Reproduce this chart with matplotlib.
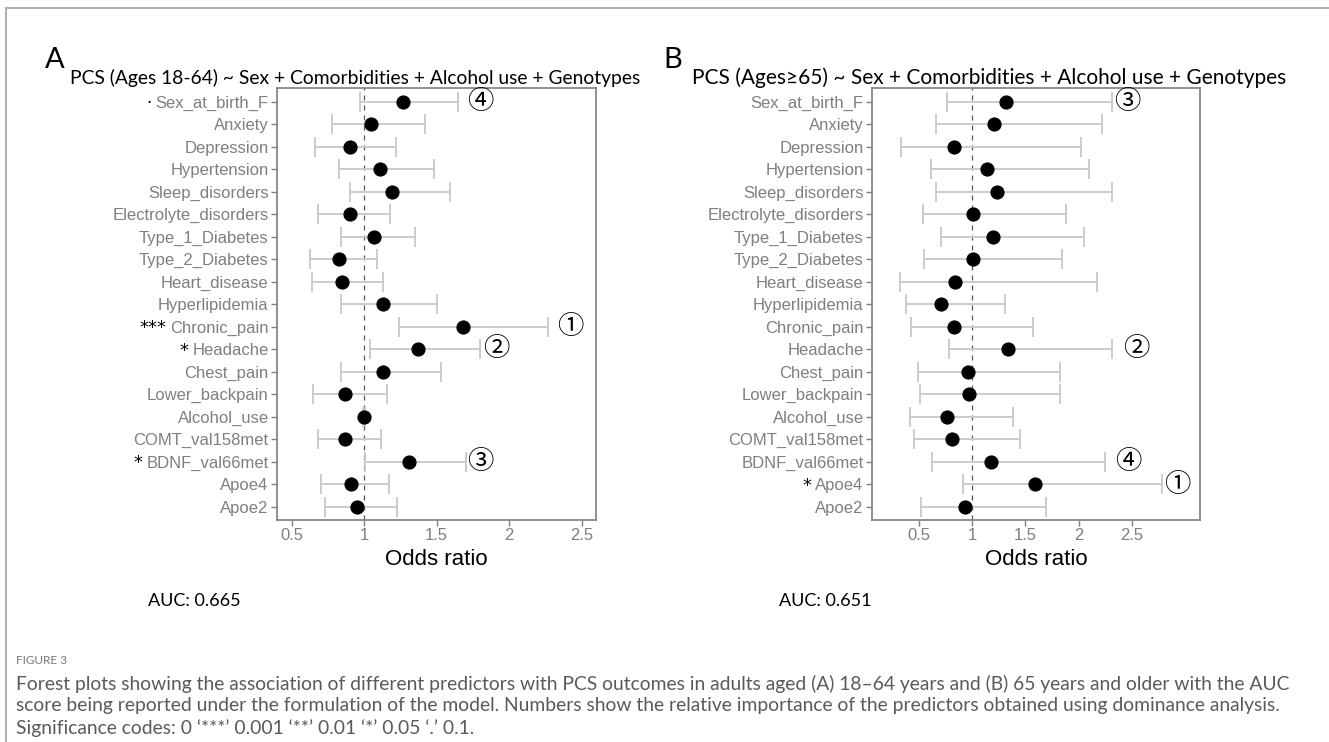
import matplotlib.pyplot as plt
import numpy as np

predictors = ['Sex_at_birth_F', 'Anxiety', 'Depression', 'Hypertension', 'Sleep_disorders',
              'Electrolyte_disorders', 'Type_1_Diabetes', 'Type_2_Diabetes', 'Heart_disease',
              'Hyperlipidemia', 'Chronic_pain', 'Headache', 'Chest_pain', 'Lower_backpain',
              'Alcohol_use', 'COMT_val158met', 'BDNF_val66met', 'Apoe4', 'Apoe2']

# panel A: ages 18-64
or_a = [1.27, 1.05, 0.90, 1.11, 1.19, 0.90, 1.07, 0.83, 0.85, 1.13, 1.68, 1.37, 1.13, 0.87, 1.00, 0.87, 1.31, 0.91, 0.95]
lo_a = [0.97, 0.78, 0.66, 0.83, 0.90, 0.68, 0.84, 0.63, 0.64, 0.84, 1.24, 1.04, 0.84, 0.65, 0.99, 0.68, 1.01, 0.70, 0.73]
hi_a = [1.65, 1.42, 1.22, 1.48, 1.59, 1.18, 1.35, 1.09, 1.13, 1.50, 2.27, 1.80, 1.53, 1.16, 1.01, 1.12, 1.70, 1.17, 1.23]
sig_a = ['·', '', '', '', '', '', '', '', '', '', '***', '*', '', '', '', '', '*', '', '']
rank_rows_a = [0, 10, 11, 16]
rank_x_a = [1.80, 2.42, 1.91, 1.80]
rank_txt_a = ['④', '①', '②', '③']
auc_a = 'AUC: 0.665'
title_a = 'PCS (Ages 18-64) ~ Sex + Comorbidities + Alcohol use + Genotypes'

# panel B: ages 65+
or_b = [1.32, 1.21, 0.83, 1.14, 1.23, 1.01, 1.20, 1.01, 0.84, 0.71, 0.83, 1.34, 0.96, 0.97, 0.76, 0.81, 1.18, 1.59, 0.93]
lo_b = [0.76, 0.66, 0.33, 0.61, 0.66, 0.54, 0.71, 0.55, 0.32, 0.38, 0.43, 0.78, 0.49, 0.51, 0.42, 0.45, 0.62, 0.91, 0.52]
hi_b = [2.31, 2.22, 2.02, 2.10, 2.31, 1.88, 2.05, 1.84, 2.17, 1.31, 1.57, 2.31, 1.83, 1.83, 1.38, 1.45, 2.25, 2.78, 1.69]
sig_b = ['', '', '', '', '', '', '', '', '', '', '', '', '', '', '', '', '', '*', '']
rank_rows_b = [0, 11, 16, 17]
rank_x_b = [2.46, 2.54, 2.465, 2.93]
rank_txt_b = ['③', '②', '④', '①']
auc_b = 'AUC: 0.651'
title_b = 'PCS (Ages\u226565) ~ Sex + Comorbidities + Alcohol use + Genotypes'

ticks = [0.5, 1, 1.5, 2, 2.5]
tick_labels = ['0.5', '1', '1.5', '2', '2.5']

W, H = 1329, 742
fig = plt.figure(figsize=(W / 100, H / 100), dpi=100)

label_font = 'Liberation Sans'
title_font = 'Lato'


def px_box(left, right, top, bottom):
    return [left / W, 1 - bottom / H, (right - left) / W, (bottom - top) / H]


def draw_panel(ax, odds, lo, hi, xlim, rank_rows, rank_x, rank_txt):
    y = np.arange(len(predictors))[::-1] + 1
    odds = np.array(odds)
    err = [odds - np.array(lo), np.array(hi) - odds]
    ax.errorbar(odds, y, xerr=err, fmt='none', ecolor='#c8c8c8', elinewidth=1.3,
                capsize=7, capthick=1.3, zorder=2)
    ax.axvline(1, color='#555555', lw=0.9, ls=(0, (4, 4)), zorder=1)
    ax.scatter(odds, y, s=85, color='black', zorder=3)
    for r, xv, t in zip(rank_rows, rank_x, rank_txt):
        ax.text(xv, y[r], t, fontsize=19, ha='center', va='center',
                family=['Noto Sans CJK JP', 'DejaVu Sans'])
    ax.set_xlim(*xlim)
    ax.set_ylim(0.4, len(predictors) + 0.6)
    ax.set_yticks(y)
    ax.set_yticklabels(predictors, family=label_font, fontsize=12, color='#4d4d4d')
    ax.set_xticks(ticks)
    ax.set_xticklabels(tick_labels, family=label_font, fontsize=12, color='#4d4d4d')
    ax.set_xlabel('Odds ratio', family=label_font, fontsize=16, labelpad=4)
    ax.tick_params(colors='#7f7f7f', length=4, width=1, pad=2)
    for s in ax.spines.values():
        s.set_color('#7f7f7f')
        s.set_linewidth(1.2)


ax_a = fig.add_axes(px_box(277, 596, 88, 520))
draw_panel(ax_a, or_a, lo_a, hi_a, (0.4, 2.6), rank_rows_a, rank_x_a, rank_txt_a)
ax_b = fig.add_axes(px_box(872, 1200, 88, 520))
draw_panel(ax_b, or_b, lo_b, hi_b, (0.06, 3.14), rank_rows_b, rank_x_b, rank_txt_b)

# significance marks in front of the tick labels
fig.canvas.draw()
renderer = fig.canvas.get_renderer()
for ax, sig in [(ax_a, sig_a), (ax_b, sig_b)]:
    for lab, s in zip(ax.get_yticklabels(), sig):
        if not s:
            continue
        bb = lab.get_window_extent(renderer)
        fig.text((bb.x0 - 4) / W, (bb.y0 + bb.y1) / 2 / H, s, ha='right', va='center',
                 fontsize=12 if s == '·' else 13, family='DejaVu Sans', color='black')

# panel letters and titles
fig.text(45 / W, 1 - 68 / H, 'A', fontsize=21, family=title_font, va='baseline')
fig.text(70 / W, 1 - 84 / H, title_a, fontsize=13.9, family=title_font, va='baseline')
fig.text(663 / W, 1 - 68 / H, 'B', fontsize=21, family=title_font, va='baseline')
fig.text(692 / W, 1 - 84 / H, title_b, fontsize=15, family=title_font, va='baseline')

fig.text(148 / W, 1 - 601 / H, auc_a, fontsize=13, family=title_font, va='center')
fig.text(779 / W, 1 - 601 / H, auc_b, fontsize=13, family=title_font, va='center')

# caption
cap = '#5a5a5a'
fig.text(16 / W, 1 - 661 / H, 'FIGURE 3', fontsize=8.5, family=title_font, color='#777777', va='center')
lines = ['Forest plots showing the association of different predictors with PCS outcomes in adults aged (A) 18\u201364 years and (B) 65 years and older with the AUC',
         'score being reported under the formulation of the model. Numbers show the relative importance of the predictors obtained using dominance analysis.',
         'Significance codes: 0 \u2018***\u2019 0.001 \u2018**\u2019 0.01 \u2018*\u2019 0.05 \u2018.\u2019 0.1.']
for i, line in enumerate(lines):
    fig.text(16 / W, 1 - (684 + 22 * i) / H, line, fontsize=13.9, family=title_font, color=cap, va='center')

# outer frame lines
fig.add_artist(plt.Line2D([6 / W, 1], [1 - 8 / H, 1 - 8 / H], color='#b0b0b0', lw=1.5))
fig.add_artist(plt.Line2D([6 / W, 6 / W], [1 - 8 / H, 0], color='#b0b0b0', lw=1.5))

fig.savefig('out.png', dpi=100)
